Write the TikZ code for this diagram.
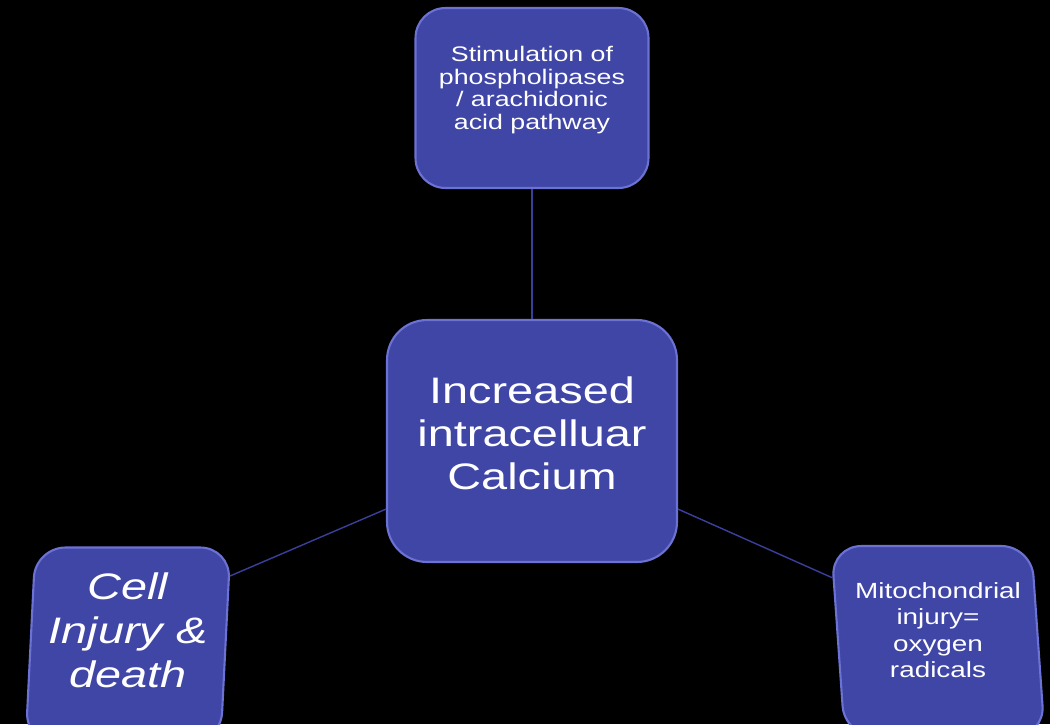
\documentclass[tikz,border=0pt]{standalone}
\usepackage{fontspec}
\setmainfont{Liberation Sans}
\newfontfamily\widefont[FakeStretch=1.27]{Liberation Sans}
\definecolor{boxblue}{RGB}{64,70,166}
\definecolor{rimblue}{RGB}{108,114,212}
\definecolor{lineblue}{RGB}{58,63,156}
\tikzset{
    box/.style={draw=rimblue, line width=1.2pt, fill=boxblue, rounded corners=0.6cm, inner sep=0pt},
    boxtext/.style={text=white, align=center, inner sep=0pt},
    link/.style={draw=lineblue, line width=0.8pt}
}
\begin{document}
\begin{tikzpicture}[x=0.02cm, y=-0.02cm]
        \fill[black] (0,0) rectangle (1050,724);
        \useasboundingbox (0,0) rectangle (1050,724);
        \clip (0,0) rectangle (1050,724);

        \node[box, minimum width=5.8cm, minimum height=4.84cm, rounded corners=0.8cm,
            label={[boxtext, name=calciumtext, yshift=0.16cm, font=\widefont\fontsize{21}{24.4}\selectfont]center:Increased\\intracelluar\\Calcium}]
            (calcium) at (532,441) {};
        \node[box, minimum width=4.66cm, minimum height=3.6cm,
            label={[boxtext, name=phosphotext, yshift=0.16cm, font=\widefont\fontsize{12}{13}\selectfont]center:Stimulation of\\phospholipases\\/ arachidonic\\acid pathway}]
            (phospho) at (532,98) {};
        \node[box, minimum width=3.9cm, minimum height=3.9cm, xslant=0.05,
            label={[boxtext, name=injurytext, yshift=0.3cm, font=\widefont\itshape\fontsize{21}{25}\selectfont]center:Cell\\Injury \&\\death}]
            (injury) at (128,645) {};
        \node[box, minimum width=4cm, minimum height=3.8cm, xslant=-0.07,
            label={[boxtext, name=mitotext, yshift=0.22cm, font=\widefont\fontsize{12.5}{15}\selectfont]center:Mitochondrial\\injury=\\oxygen\\radicals}]
            (mito) at (938,641) {};

        \draw[link] (phospho.south) -- (calcium.north);
        \draw[link] (calcium.205) -- (injury.35);
        \draw[link] (calcium.-25) -- (mito.148);
    \end{tikzpicture}
\end{document}
